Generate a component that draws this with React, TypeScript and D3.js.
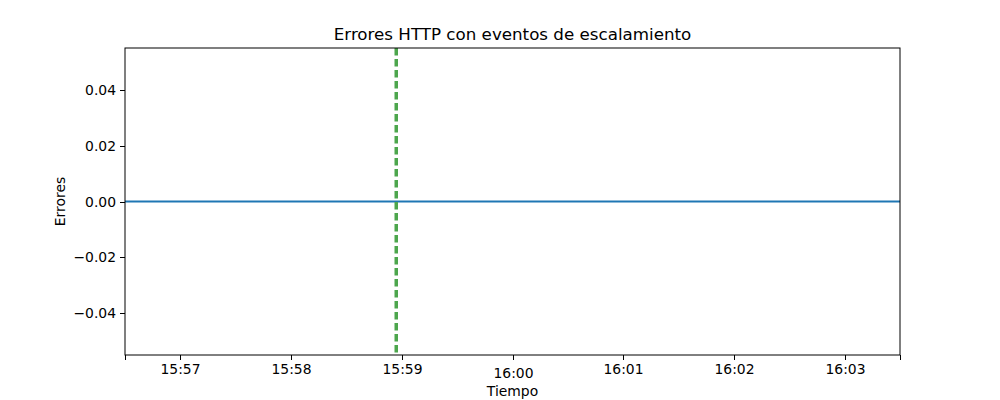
import { useEffect, useRef } from 'react';
import * as d3 from 'd3';

// Error counts sampled every minute (all zero in the reference)
const times = ['15:56:30', '15:57:30', '15:58:30', '15:59:30', '16:00:30', '16:01:30', '16:02:30', '16:03:30'];
const errors = [0, 0, 0, 0, 0, 0, 0, 0];

// Scaling events
const scaleEvents = ['15:58:57'];

const xTicks = ['15:56:30', '15:57', '15:58', '15:59', '16:00', '16:01', '16:02', '16:03', '16:03:30'];
const xTickLabels = ['', '15:57', '15:58', '15:59', '16:00', '16:01', '16:02', '16:03', ''];
const yTicks = [-0.04, -0.02, 0, 0.02, 0.04];

const parseTime = (s: string) => {
  const parts = s.split(':').map(Number);
  return new Date(2024, 0, 1, parts[0], parts[1], parts[2] || 0);
};

export default function App() {
  const svgRef = useRef<SVGSVGElement>(null);

  useEffect(() => {
    if (!svgRef.current) return;
    const width = 1000;
    const height = 400;
    const margin = { top: 48, right: 100, bottom: 45, left: 125 };

    const svg = d3.select(svgRef.current);
    svg.selectAll('*').remove();

    const font = 'DejaVu Sans, sans-serif';

    const x = d3.scaleTime()
      .domain([parseTime('15:56:30'), parseTime('16:03:30')])
      .range([margin.left, width - margin.right]);

    const y = d3.scaleLinear()
      .domain([-0.055, 0.055])
      .range([height - margin.bottom, margin.top]);

    svg.append('rect')
      .attr('width', width)
      .attr('height', height)
      .attr('fill', 'white');

    // Line
    const data = times.map((t, i) => ({ t: parseTime(t), v: errors[i] }));
    const line = d3.line<{ t: Date; v: number }>()
      .x(d => x(d.t))
      .y(d => y(d.v));

    svg.append('path')
      .datum(data)
      .attr('d', line)
      .attr('fill', 'none')
      .attr('stroke', '#1f77b4')
      .attr('stroke-width', 2);

    // Scaling event markers
    svg.selectAll('.event')
      .data(scaleEvents)
      .enter()
      .append('line')
      .attr('class', 'event')
      .attr('x1', d => x(parseTime(d)))
      .attr('x2', d => x(parseTime(d)))
      .attr('y1', margin.top)
      .attr('y2', height - margin.bottom)
      .attr('stroke', '#4da64d')
      .attr('stroke-width', 3.5)
      .attr('stroke-dasharray', '7.5,3.5');

    // Frame
    svg.append('rect')
      .attr('x', margin.left)
      .attr('y', margin.top)
      .attr('width', width - margin.left - margin.right)
      .attr('height', height - margin.top - margin.bottom)
      .attr('fill', 'none')
      .attr('stroke', 'black')
      .attr('stroke-width', 1);

    // X axis ticks
    const xg = svg.append('g');
    xTicks.forEach((t, i) => {
      const px = Math.round(x(parseTime(t))) + 0.5;
      xg.append('line')
        .attr('x1', px).attr('x2', px)
        .attr('y1', height - margin.bottom)
        .attr('y2', height - margin.bottom + 5)
        .attr('stroke', 'black');
      if (xTickLabels[i]) {
        xg.append('text')
          .attr('x', px)
          .attr('y', height - margin.bottom + (xTickLabels[i] === '16:00' ? 23 : 19))
          .attr('text-anchor', 'middle')
          .style('font-family', font)
          .style('font-size', '13.9px')
          .text(xTickLabels[i]);
      }
    });

    // Y axis ticks
    const yg = svg.append('g');
    yTicks.forEach(v => {
      const py = Math.round(y(v)) + 0.5;
      yg.append('line')
        .attr('x1', margin.left - 5).attr('x2', margin.left)
        .attr('y1', py).attr('y2', py)
        .attr('stroke', 'black');
      yg.append('text')
        .attr('x', margin.left - 9)
        .attr('y', py)
        .attr('dy', '0.35em')
        .attr('text-anchor', 'end')
        .style('font-family', font)
        .style('font-size', '13.9px')
        .text(v === 0 ? '0.00' : d3.format('.2f')(v).replace('-', '\u2212'));
    });

    // Labels
    svg.append('text')
      .attr('x', (margin.left + width - margin.right) / 2)
      .attr('y', 396)
      .attr('text-anchor', 'middle')
      .style('font-family', font)
      .style('font-size', '13.9px')
      .text('Tiempo');

    svg.append('text')
      .attr('transform', `translate(65,${(margin.top + height - margin.bottom) / 2}) rotate(-90)`)
      .attr('text-anchor', 'middle')
      .style('font-family', font)
      .style('font-size', '13.9px')
      .text('Errores');

    svg.append('text')
      .attr('x', (margin.left + width - margin.right) / 2)
      .attr('y', 40)
      .attr('text-anchor', 'middle')
      .style('font-family', font)
      .style('font-size', '16.7px')
      .text('Errores HTTP con eventos de escalamiento');
  }, []);

  return (
    <svg
      ref={svgRef}
      width={1000}
      height={400}
      style={{ position: 'absolute', left: 0, top: 0, display: 'block' }}
    />
  );
}
